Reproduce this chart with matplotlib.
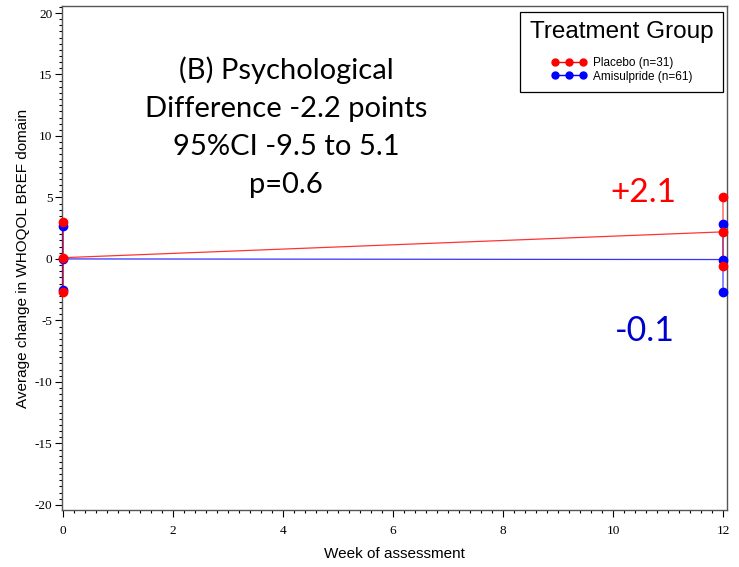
import matplotlib
matplotlib.use("Agg")
import matplotlib.pyplot as plt
from matplotlib.ticker import MultipleLocator

plt.rcParams["axes.unicode_minus"] = False

# weeks and mean change with 95% CI ends
weeks = [0, 12]
placebo_mean = [0.1, 2.2]
placebo_lo = [-2.7, -0.55]
placebo_hi = [3.0, 5.0]
amisul_mean = [0.0, -0.05]
amisul_lo = [-2.5, -2.65]
amisul_hi = [2.7, 2.8]

group_labels = ["Placebo (n=31)", "Amisulpride (n=61)"]
summary_lines = ["(B) Psychological", "Difference -2.2 points",
                 "95%CI -9.5 to 5.1", "p=0.6"]
end_labels = ["+2.1", "-0.1"]

fig = plt.figure(figsize=(7.39, 5.67), dpi=100)
ax = fig.add_axes([62/739, 1 - 510/567, 665/739, 504/567])

def draw_group(mean, lo, hi, col, z):
    for x, m, l, h in zip(weeks, mean, lo, hi):
        ax.plot([x, x], [l, h], color=col, lw=1.2, alpha=0.55, zorder=3,
                clip_on=False)
        ax.plot([x, x, x], [l, m, h], ls="none", marker="o", ms=6,
                color=col, zorder=z, clip_on=False)
    ax.plot(weeks, mean, color=col, lw=0.9, alpha=0.8, zorder=3)

# amisulpride underneath, placebo on top (as in the original)
draw_group(amisul_mean, amisul_lo, amisul_hi, "#0000ff", 4)
draw_group(placebo_mean, placebo_lo, placebo_hi, "#ff0000", 5)

# legend proxies
ax.plot([], [], color="#ff0000", lw=1, marker="o", ms=5, label=group_labels[0])
ax.plot([], [], color="#0000ff", lw=1, marker="o", ms=5, label=group_labels[1])

ax.set_xlim(-0.018, 12.073)
ax.set_ylim(-20.42, 20.57)
ax.xaxis.set_major_locator(MultipleLocator(2))
ax.xaxis.set_minor_locator(MultipleLocator(0.2))
ax.yaxis.set_major_locator(MultipleLocator(5))
ax.yaxis.set_minor_locator(MultipleLocator(0.5))
ax.tick_params(which="major", length=5, width=0.8, labelsize=9.5, pad=6)
ax.tick_params(which="minor", length=2.5, width=0.8)
ax.tick_params(axis="y", pad=2)
for t in ax.get_xticklabels() + ax.get_yticklabels():
    t.set_family("Liberation Serif")
for s in ax.spines.values():
    s.set_color("#555555")
    s.set_linewidth(1.0)

ax.set_xlabel("Week of assessment", family="Liberation Sans", fontsize=11, labelpad=7)
ax.set_ylabel("Average change in WHOQOL BREF domain", family="Liberation Sans",
              fontsize=11, labelpad=3)

# summary text block
for i, line in enumerate(summary_lines):
    fig.text(286/739, 1 - (70 + i*38.5)/567, line, family="Lato", fontsize=21,
             ha="center", va="center", color="black")

fig.text(643/739, 1 - 193/567, end_labels[0], family="Lato", fontsize=24,
         ha="center", va="center", color="#ff0000")
fig.text(645/739, 1 - 331/567, end_labels[1], family="Lato", fontsize=24.5,
         ha="center", va="center", color="#0000cc")

leg = ax.legend(loc="upper right", bbox_to_anchor=(723/739, 1 - 12/567),
                bbox_transform=fig.transFigure, borderaxespad=0,
                title="Treatment Group", numpoints=3, handlelength=3,
                handletextpad=0.5, labelspacing=0.1, fancybox=False,
                edgecolor="black", framealpha=1,
                prop={"family": "Liberation Sans", "size": 8.5},
                title_fontproperties={"family": "Liberation Sans", "size": 17.5},
                borderpad=0.8)
leg._legend_box.sep = 10
leg.get_frame().set_linewidth(0.9)

fig.savefig("out.png", dpi=100)
